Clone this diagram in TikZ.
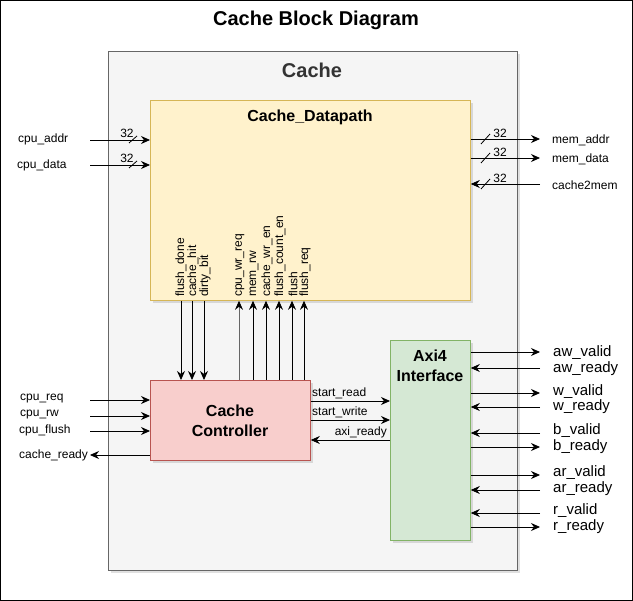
\documentclass[tikz,border=0pt]{standalone}
\usepackage{fontspec}
\setmainfont{Liberation Sans}
\usetikzlibrary{arrows.meta}
\definecolor{cacheFill}{HTML}{F5F5F5}
\definecolor{cacheLine}{HTML}{666666}
\definecolor{cacheText}{HTML}{333333}
\definecolor{dpFill}{HTML}{FFF2CC}
\definecolor{dpLine}{HTML}{D6B656}
\definecolor{ctFill}{HTML}{F8CECC}
\definecolor{ctLine}{HTML}{B85450}
\definecolor{axFill}{HTML}{D5E8D4}
\definecolor{axLine}{HTML}{82B366}
\begin{document}
\begin{tikzpicture}[x=1pt,y=-1pt,
  sig/.style={font=\fontsize{12}{12}\selectfont, inner sep=0pt, anchor=west},
  axisig/.style={font=\fontsize{15}{15}\selectfont, inner sep=0pt, anchor=west},
  vsig/.style={font=\fontsize{12}{12}\selectfont, inner sep=0pt, anchor=west, rotate=90},
  bus/.style={font=\fontsize{12}{12}\selectfont, inner sep=0pt},
  arr/.style={-{Stealth[length=9pt,width=8pt,inset=3pt,color=black]}, line width=0.8pt},
  blk/.style={draw, line width=0.8pt, inner sep=0pt, align=center},
  shadowbox/.style={fill=black, opacity=0.12, draw=none}]
\useasboundingbox (0,0) rectangle (633,601);
\draw[line width=1pt] (0.5,0.5) rectangle (632.5,600.5);

% title
\node[font=\bfseries\fontsize{20}{20}\selectfont, inner sep=0pt] (title) at (316,20) {Cache Block Diagram};

% cache container
\fill[shadowbox] (111,54) rectangle (520,573);
\node[blk, draw=cacheLine, fill=cacheFill, minimum width=409pt, minimum height=519pt, anchor=north west] (cache) at (108,51) {};
\node[font=\bfseries\fontsize{20}{20}\selectfont, text=cacheText, inner sep=0pt] (cachelbl) at (312,70) {Cache};

% datapath
\fill[shadowbox] (153,103) rectangle (473,303);
\node[blk, draw=dpLine, fill=dpFill, minimum width=320pt, minimum height=200pt, anchor=north west] (dp) at (150,100) {};
\node[font=\bfseries\fontsize{16}{16}\selectfont, inner sep=0pt] (dplbl) at (310,117) {Cache\_Datapath};

% controller
\fill[shadowbox] (153,383) rectangle (313,463);
\node[blk, draw=ctLine, fill=ctFill, minimum width=160pt, minimum height=80pt, anchor=north west] (ctrl) at (150,380) {};
\node[font=\bfseries\fontsize{16}{20}\selectfont, align=center, inner sep=0pt] (ctrllbl) at (230,421) {Cache\\Controller};

% axi
\fill[shadowbox] (393,343) rectangle (473,543);
\node[blk, draw=axLine, fill=axFill, minimum width=80pt, minimum height=200pt, anchor=north west] (axi) at (390,340) {};
\node[font=\bfseries\fontsize{16}{20}\selectfont, align=center, inner sep=0pt] (axilbl) at (430,366) {Axi4\\Interface};

% ---- CPU side of datapath
\node[sig] (cpuaddr) at (18,139.5) {cpu\_addr};
\node[sig] (cpudata) at (17,165.5) {cpu\_data};
\coordinate (cpuaddrS) at (90,140);
\coordinate (cpudataS) at (90,165);
\draw[arr] (cpuaddrS) -- (cpuaddrS -| dp.west);
\draw[arr] (cpudataS) -- (cpudataS -| dp.west);
\draw[line width=0.8pt] (129,143) -- (137,136);
\draw[line width=0.8pt] (129,168) -- (137,161);
\node[bus] (b1) at (127,133.5) {32};
\node[bus] (b2) at (127,158.5) {32};

% ---- memory side of datapath
\coordinate (memaddrE) at (540,139);
\coordinate (memdataE) at (540,158);
\coordinate (c2mS) at (540,184);
\draw[arr] (memaddrE -| dp.east) -- (memaddrE);
\draw[arr] (memdataE -| dp.east) -- (memdataE);
\draw[arr] (c2mS) -- (c2mS -| dp.east);
\draw[line width=0.8pt] (481,144) -- (490,134);
\draw[line width=0.8pt] (481,163) -- (490,153);
\draw[line width=0.8pt] (481,189) -- (490,179);
\node[bus] (b3) at (500,133.5) {32};
\node[bus] (b4) at (500,152.5) {32};
\node[bus] (b5) at (500,178.5) {32};
\node[sig] (memaddr) at (552,140) {mem\_addr};
\node[sig] (memdata) at (552,159) {mem\_data};
\node[sig] (c2m) at (552,185) {cache2mem};

% ---- vertical status/control signals
\node[vsig] (fd) at (181,297) {flush\_done};
\node[vsig] (ch) at (193,297) {cache\_hit};
\node[vsig] (db) at (205,297) {dirty\_bit};
\node[vsig] (cwr) at (240,297) {cpu\_wr\_req};
\node[vsig] (mrw) at (254,297) {mem\_rw};
\node[vsig] (cwe) at (267,297) {cache\_wr\_en};
\node[vsig] (fce) at (280,297) {flush\_count\_en};
\node[vsig] (fl) at (293,297) {flush};
\node[vsig] (frq) at (305,297) {flush\_req};
\foreach \xx in {181,192,204}{
  \draw[arr] (\xx,0 |- dp.south) -- (\xx,0 |- ctrl.north);
}
\draw[arr, draw=cacheLine] (239,0 |- ctrl.north) -- (239,0 |- dp.south);
\foreach \xx in {253,266,279,292,304}{
  \draw[arr] (\xx,0 |- ctrl.north) -- (\xx,0 |- dp.south);
}

% ---- CPU side of controller
\node[sig] (cpureq) at (20,399) {cpu\_req};
\node[sig] (cpurw) at (20,415) {cpu\_rw};
\node[sig] (cpuflush) at (19,430) {cpu\_flush};
\node[sig] (cready) at (19,455) {cache\_ready};
\coordinate (cpureqS) at (90,400);
\coordinate (cpurwS) at (90,416);
\coordinate (cpuflushS) at (90,431);
\coordinate (creadyE) at (90,455);
\draw[arr] (cpureqS) -- (cpureqS -| ctrl.west);
\draw[arr] (cpurwS) -- (cpurwS -| ctrl.west);
\draw[arr] (cpuflushS) -- (cpuflushS -| ctrl.west);
\draw[arr] (creadyE -| ctrl.west) -- (creadyE);

% ---- controller <-> axi
\coordinate (sr) at (350,401);
\coordinate (sw) at (350,420);
\coordinate (ar) at (350,440);
\draw[arr] (sr -| ctrl.east) -- (sr -| axi.west);
\draw[arr] (sw -| ctrl.east) -- (sw -| axi.west);
\draw[arr] (ar -| axi.west) -- (ar -| ctrl.east);
\node[sig] (srl) at (312,393) {start\_read};
\node[sig] (swl) at (312,412) {start\_write};
\node[sig, anchor=east] (arl) at (387,432) {axi\_ready};

% ---- axi channel signals
\node[axisig] (awv) at (553,352.5) {aw\_valid};
\node[axisig] (awr) at (553,368.5) {aw\_ready};
\node[axisig] (wv) at (553,391.5) {w\_valid};
\node[axisig] (wr) at (553,406.5) {w\_ready};
\node[axisig] (bv) at (553,430.5) {b\_valid};
\node[axisig] (br) at (553,446.5) {b\_ready};
\node[axisig] (arv) at (553,472.5) {ar\_valid};
\node[axisig] (arr) at (553,488.5) {ar\_ready};
\node[axisig] (rv) at (553,510.5) {r\_valid};
\node[axisig] (rr) at (553,526.5) {r\_ready};
\coordinate (awvE) at (540,352);
\coordinate (awrS) at (540,368);
\coordinate (wvE) at (540,393);
\coordinate (wrS) at (540,407);
\coordinate (bvS) at (540,433);
\coordinate (brE) at (540,447);
\coordinate (arvE) at (540,475);
\coordinate (arrS) at (540,490);
\coordinate (rvS) at (540,513);
\coordinate (rrE) at (540,527);
\draw[arr] (awvE -| axi.east) -- (awvE);
\draw[arr] (awrS) -- (awrS -| axi.east);
\draw[arr] (wvE -| axi.east) -- (wvE);
\draw[arr] (wrS) -- (wrS -| axi.east);
\draw[arr] (bvS) -- (bvS -| axi.east);
\draw[arr] (brE -| axi.east) -- (brE);
\draw[arr] (arvE -| axi.east) -- (arvE);
\draw[arr] (arrS) -- (arrS -| axi.east);
\draw[arr] (rvS) -- (rvS -| axi.east);
\draw[arr] (rrE -| axi.east) -- (rrE);
\end{tikzpicture}
\end{document}
